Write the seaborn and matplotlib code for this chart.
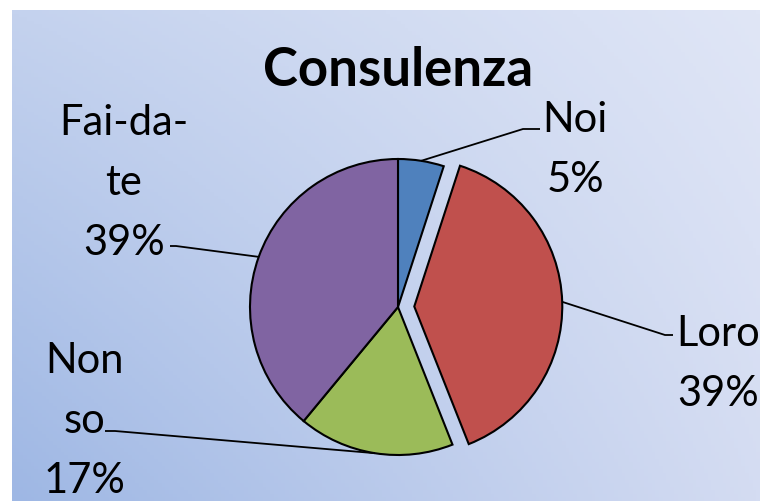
import numpy as np
import matplotlib
matplotlib.use("Agg")
import matplotlib.pyplot as plt
import seaborn as sns

# Dati del grafico
labels = ["Noi", "Loro", "Non\nso", "Fai-da-\nte"]
values = [5, 39, 17, 39]
colors = ["#4f81bd", "#c0504d", "#9bbb59", "#8064a2"]
explode = [0, 0.11, 0, 0]
title = "Consulenza"

sns.set_style("white")
plt.rcParams["font.family"] = ["Lato", "DejaVu Sans"]

W, H = 760, 502
fig = plt.figure(figsize=(W / 100, H / 100), dpi=100)

# Sfondo con sfumatura
bg = fig.add_axes([12 / W, 0, (W - 12) / W, (H - 11) / H])
tl = np.array([196, 210, 238]) / 255
tr = np.array([224, 230, 246]) / 255
bl = np.array([158, 183, 228]) / 255
br = np.array([212, 220, 242]) / 255
u = np.linspace(0, 1, 200)[None, :, None]
v = np.linspace(0, 1, 140)[:, None, None]
grad = (1 - v) * ((1 - u) * tl + u * tr) + v * ((1 - u) * bl + u * br)
bg.imshow(grad, aspect="auto", extent=[0, 1, 0, 1])
bg.set_axis_off()

# Assi in pixel per torta ed etichette
ax = fig.add_axes([0, 0, 1, 1])
ax.set_xlim(0, W)
ax.set_ylim(0, H)
ax.set_aspect("equal")
ax.set_axis_off()
ax.patch.set_alpha(0)

cx, cy, r = 398, 194, 148
wedges, _ = ax.pie(values, colors=colors, explode=[e * r for e in explode],
                   startangle=90, counterclock=False, radius=r, center=(cx, cy),
                   wedgeprops=dict(edgecolor="black", linewidth=1.5))
ax.set_xlim(0, W)
ax.set_ylim(0, H)

ax.text(398, H - 70, title, ha="center", va="center", fontsize=38,
        fontweight="bold", color="black")

# posizioni delle etichette (centro testo, gomito della linea, fine linea)
label_pos = [(575, 150), (718, 364), (84, 421), (124, 183)]
elbows = [(523, 130, 540), (665, 336, 673), (115, 432, 105), (176, 247, 170)]

for w, lab, val, (tx, ty), (ex, ey, hx) in zip(wedges, labels, values, label_pos, elbows):
    ang = np.deg2rad((w.theta1 + w.theta2) / 2)
    ox, oy = w.center
    px = ox + r * np.cos(ang)
    py = oy + r * np.sin(ang)
    ax.plot([px, ex, hx], [py, H - ey, H - ey], color="black", lw=1.3,
            solid_capstyle="butt")
    ax.text(tx, H - ty, f"{lab}\n{val}%", ha="center", va="center",
            fontsize=30, linespacing=1.72, color="black", clip_on=False)

fig.savefig("out.png", dpi=100, facecolor="white")
